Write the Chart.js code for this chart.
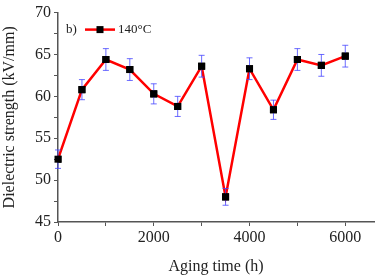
<!DOCTYPE html>
<html>
<head>
<meta charset="utf-8">
<script src="https://cdn.jsdelivr.net/npm/chart.js@4"></script>
<style>
    html, body { margin: 0; padding: 0; background: #fff; }
    #wrap { width: 379px; height: 276px; }
</style>
</head>
<body>
<div id="wrap"><canvas id="chart"></canvas></div>
<script>
// aging time (h)
const agingTime = [0, 500, 1000, 1500, 2000, 2500, 3000, 3500, 4000, 4500, 5000, 5500, 6000];
// dielectric strength at 140°C (kV/mm)
const strength140 = [52.5, 60.8, 64.4, 63.2, 60.3, 58.8, 63.6, 48.0, 63.3, 58.4, 64.4, 63.7, 64.8];
// error bar half height
const strengthErr = [1.1, 1.2, 1.3, 1.3, 1.2, 1.2, 1.3, 1.0, 1.3, 1.15, 1.3, 1.3, 1.3];
// x tick positions (labelled every 2000)
const xTicks = [0, 1000, 2000, 3000, 4000, 5000, 6000];

const serif = "'Liberation Serif', 'Times New Roman', serif";
const axisColor = '#555';

// draws the blue error bars through the chart scales
const errorBars = {
    id: 'errorBars',
    afterDatasetsDraw(chart) {
        const { ctx, scales: { x, y } } = chart;
        ctx.save();
        ctx.strokeStyle = 'rgba(70,70,255,0.8)';
        ctx.lineWidth = 1;
        agingTime.forEach((t, i) => {
            const px = x.getPixelForValue(t);
            const top = y.getPixelForValue(strength140[i] + strengthErr[i]);
            const bot = y.getPixelForValue(strength140[i] - strengthErr[i]);
            ctx.beginPath();
            ctx.moveTo(px, top); ctx.lineTo(px, bot);
            ctx.moveTo(px - 3, top); ctx.lineTo(px + 3, top);
            ctx.moveTo(px - 3, bot); ctx.lineTo(px + 3, bot);
            ctx.stroke();
        });
        // redraw markers over the bars
        const meta = chart.getDatasetMeta(0);
        ctx.fillStyle = '#000';
        meta.data.forEach(pt => {
            ctx.fillRect(pt.x - 3.5, pt.y - 3.5, 7, 7);
        });
        ctx.restore();
    }
};

// panel label and legend entry
const legendBox = {
    id: 'legendBox',
    afterDraw(chart) {
        const { ctx, chartArea } = chart;
        const lx = chartArea.left + 8, ly = chartArea.top + 17;
        ctx.save();
        ctx.font = '13px ' + serif;
        ctx.fillStyle = '#222';
        ctx.textBaseline = 'middle';
        ctx.fillText('b)', lx, ly);
        ctx.strokeStyle = '#ff0000';
        ctx.lineWidth = 2.5;
        ctx.beginPath();
        ctx.moveTo(lx + 19, ly); ctx.lineTo(lx + 49, ly);
        ctx.stroke();
        ctx.fillStyle = '#000';
        ctx.fillRect(lx + 30.5, ly - 3.5, 7, 7);
        ctx.fillStyle = '#222';
        ctx.fillText('140°C', lx + 52, ly);
        ctx.restore();
    }
};

new Chart(document.getElementById('chart'), {
    type: 'line',
    data: {
        datasets: [{
            label: '140°C',
            data: agingTime.map((t, i) => ({ x: t, y: strength140[i] })),
            borderColor: '#ff0000',
            backgroundColor: '#000',
            borderWidth: 2.5,
            pointStyle: 'rect',
            pointRadius: 5,
            pointBorderWidth: 0,
            tension: 0
        }]
    },
    options: {
        responsive: true,
        maintainAspectRatio: false,
        animation: false,
        layout: { padding: { top: 8, right: 2, left: 0, bottom: 0 } },
        plugins: {
            legend: { display: false },
            tooltip: { enabled: false }
        },
        scales: {
            x: {
                type: 'linear',
                min: 0,
                max: 6600,
                border: { color: axisColor, width: 1.5 },
                grid: { drawOnChartArea: false, tickLength: 4, tickColor: axisColor },
                afterBuildTicks: s => { s.ticks = xTicks.map(v => ({ value: v })); },
                ticks: {
                    autoSkip: false,
                    maxRotation: 0,
                    color: '#222',
                    padding: 2,
                    font: { family: serif, size: 16 },
                    callback: v => (Math.round(v) % 2000 === 0 ? String(Math.round(v)) : '')
                },
                title: {
                    display: true,
                    text: 'Aging time (h)',
                    color: '#222',
                    font: { family: serif, size: 16 },
                    padding: { top: 6, bottom: 0 }
                },
                afterFit: s => { s.height = 54; }
            },
            y: {
                min: 45,
                max: 70,
                border: { color: axisColor, width: 1.5 },
                grid: { drawOnChartArea: false, tickLength: 4, tickColor: axisColor },
                ticks: {
                    stepSize: 2.5,
                    autoSkip: false,
                    color: '#222',
                    padding: 3,
                    font: { family: serif, size: 16 },
                    callback: v => (Math.round(v * 10) % 50 === 0 ? String(Math.round(v)) : '')
                },
                title: {
                    display: true,
                    text: 'Dielectric strength (kV/mm)',
                    color: '#222',
                    font: { family: serif, size: 16 },
                    padding: { top: 0, bottom: 2 }
                },
                afterFit: s => { s.width = 58; }
            }
        }
    },
    plugins: [errorBars, legendBox]
});
</script>
</body>
</html>
